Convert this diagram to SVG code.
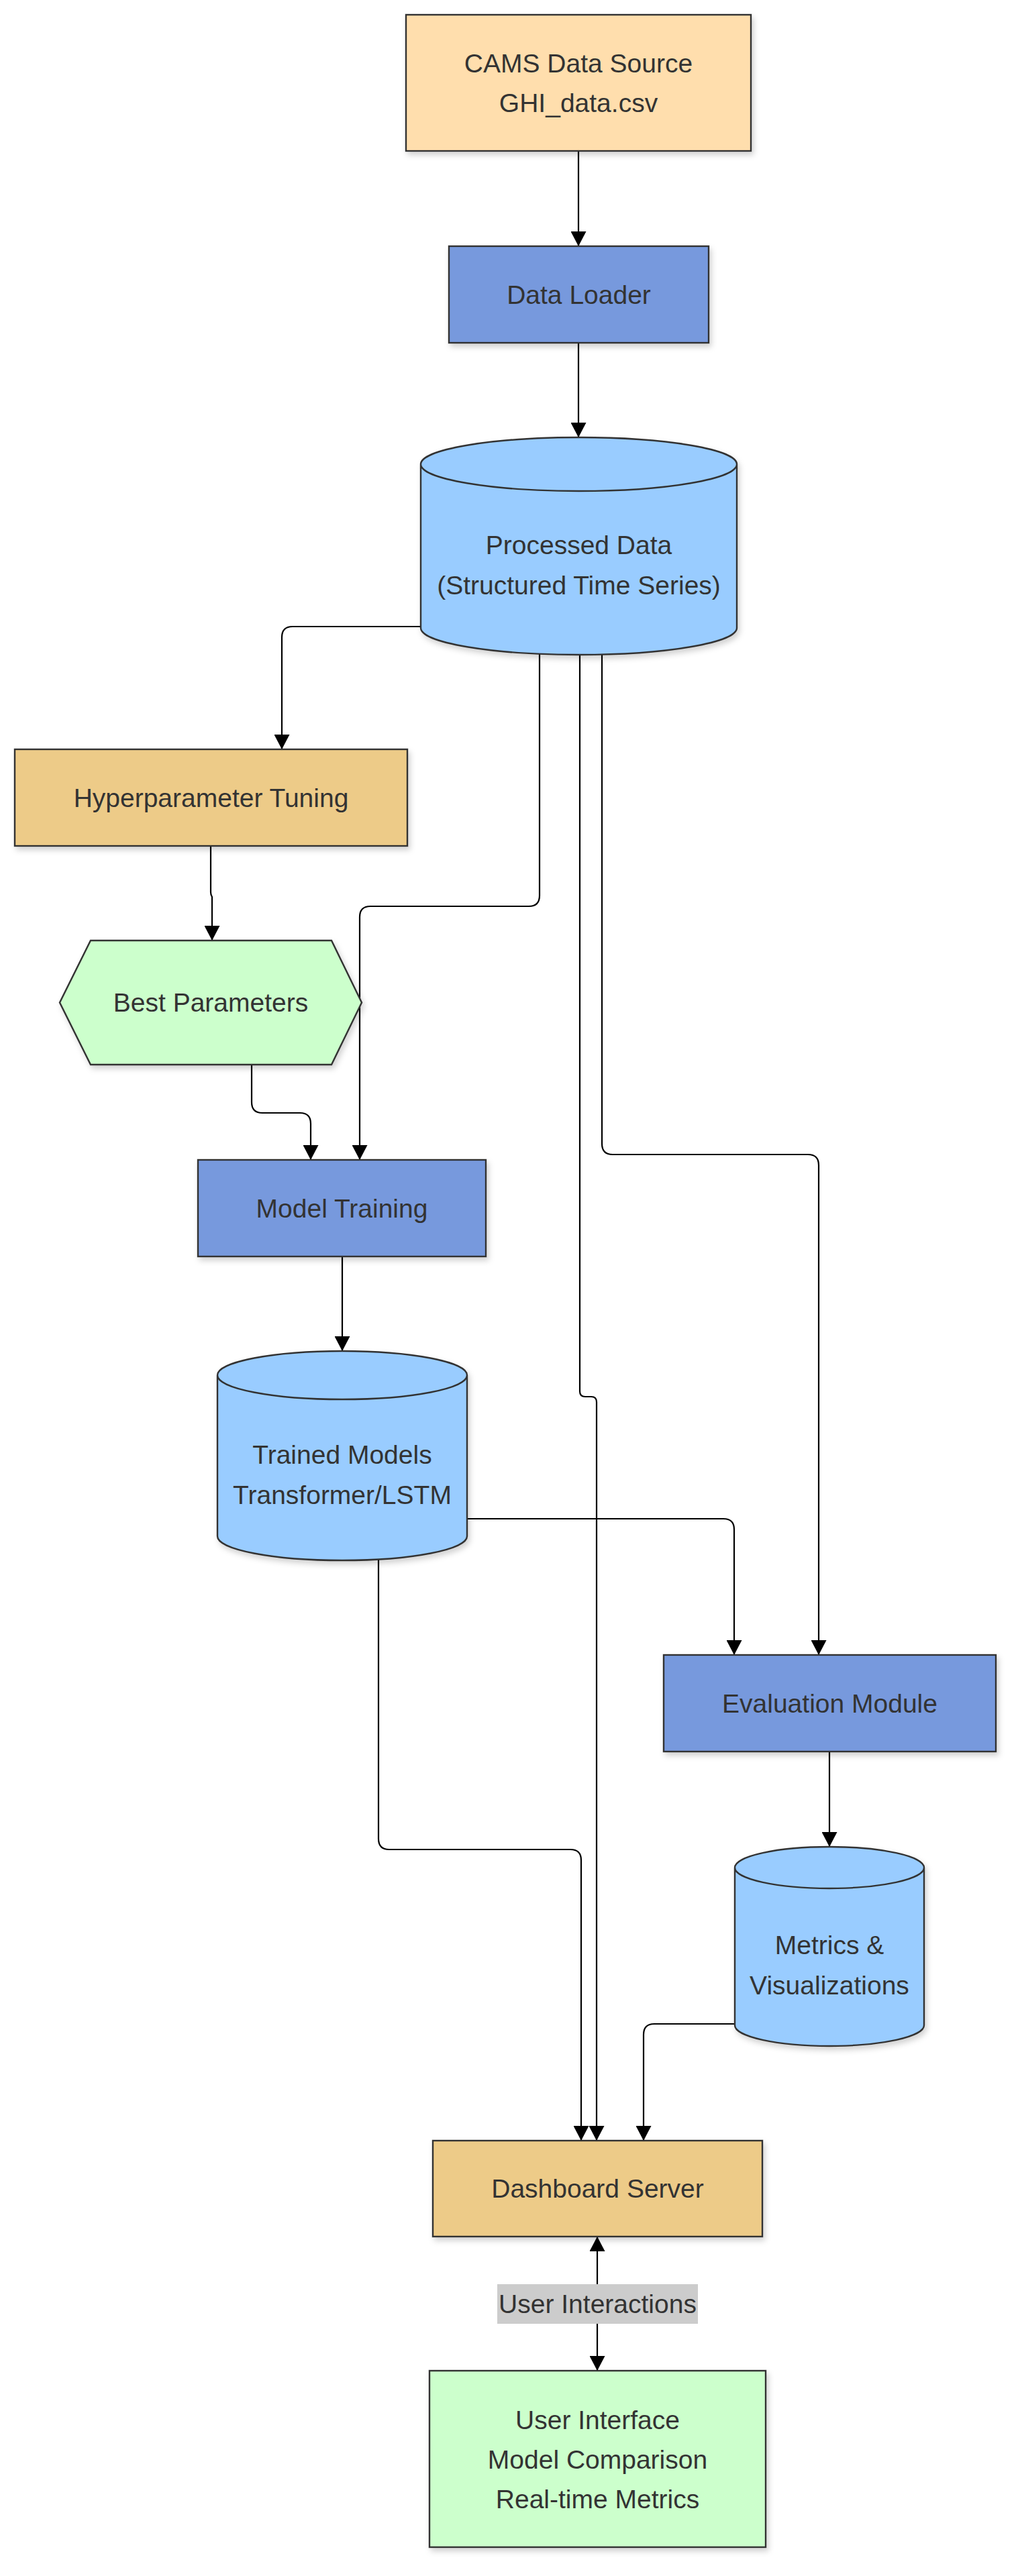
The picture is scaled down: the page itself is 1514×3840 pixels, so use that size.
<svg xmlns="http://www.w3.org/2000/svg" width="1514" height="3840" viewBox="0 0 1514 3840">
<style>
.node{stroke:#333;stroke-width:2.4;filter:url(#sh)}
.t{font-family:"Liberation Sans",Arial,sans-serif;font-size:39px;fill:#333;text-anchor:middle}
.e{fill:none;stroke:#000;stroke-width:2.2}
</style>
<defs>
<filter id="sh" x="-10%" y="-10%" width="125%" height="130%">
<feDropShadow dx="3" dy="5" stdDeviation="4" flood-color="#000" flood-opacity="0.18"/>
</filter>
<marker id="ah" markerUnits="userSpaceOnUse" markerWidth="23" markerHeight="23" refX="22" refY="11.5" orient="auto-start-reverse" viewBox="0 0 23 23">
<path d="M0,0 L22,11.5 L0,23 z" fill="#000"/>
</marker>
</defs>
<rect width="1514" height="3840" fill="#fff"/>
<g id="connectors">
<path class="e" d="M862,225 L862,367" marker-end="url(#ah)"/>
<path class="e" d="M862,511 L862,652" marker-end="url(#ah)"/>
<path class="e" d="M627,934 L436,934 Q420,934 420,950 L420,1117" marker-end="url(#ah)"/>
<path class="e" d="M314,1261 L314,1330 Q314,1334 316,1337 L316,1402" marker-end="url(#ah)"/>
<path class="e" d="M804,975 L804,1335 Q804,1351 788,1351 L552,1351 Q536,1351 536,1367 L536,1729" marker-end="url(#ah)"/>
<path class="e" d="M375,1587 L375,1643 Q375,1659 391,1659 L447,1659 Q463,1659 463,1675 L463,1729" marker-end="url(#ah)"/>
<path class="e" d="M864,976 L864,2074 Q864,2082 872,2082 L881,2082 Q889,2082 889,2090 L889,3191" marker-end="url(#ah)"/>
<path class="e" d="M897,975 L897,1705 Q897,1721 913,1721 L1204,1721 Q1220,1721 1220,1737 L1220,2467" marker-end="url(#ah)"/>
<path class="e" d="M510,1873 L510,2014" marker-end="url(#ah)"/>
<path class="e" d="M696,2264 L1078,2264 Q1094,2264 1094,2280 L1094,2467" marker-end="url(#ah)"/>
<path class="e" d="M564,2324 L564,2741 Q564,2757 580,2757 L850,2757 Q866,2757 866,2773 L866,3191" marker-end="url(#ah)"/>
<path class="e" d="M1236,2611 L1236,2753" marker-end="url(#ah)"/>
<path class="e" d="M1095,3017 L975,3017 Q959,3017 959,3033 L959,3191" marker-end="url(#ah)"/>
<path class="e" d="M890,3334 L890,3534" marker-start="url(#ah)" marker-end="url(#ah)"/>
<g id="edge-label">
<rect x="741" y="3405" width="299" height="59" fill="#ccc"/>
<text class="t" x="890.5" y="3447.5">User Interactions</text>
</g>
</g>
<g id="cams">
<rect class="node" x="605" y="22" width="514" height="203" fill="#FFDEAD"/>
<text class="t" x="862" y="107.5">CAMS Data Source</text>
<text class="t" x="862" y="166.5">GHI_data.csv</text>
</g>
<g id="loader">
<rect class="node" x="669" y="367" width="387" height="144" fill="#7799DD"/>
<text class="t" x="862.5" y="452.5">Data Loader</text>
</g>
<g id="processed">
<path class="node" fill="#99CCFF" d="M627,692 a235.5,40 0 0 0 471,0 a235.5,40 0 0 0 -471,0 l0,244 a235.5,40 0 0 0 471,0 l0,-244"/>
<text class="t" x="862.5" y="825.5">Processed Data</text>
<text class="t" x="862.5" y="885.5">(Structured Time Series)</text>
</g>
<g id="hyper">
<rect class="node" x="22" y="1117" width="585" height="144" fill="#EDCB88"/>
<text class="t" x="314.5" y="1202.5">Hyperparameter Tuning</text>
</g>
<g id="best">
<polygon class="node" fill="#CCFFCC" points="135,1402 494,1402 539,1494.5 494,1587 135,1587 89,1494.5"/>
<text class="t" x="314" y="1507.5">Best Parameters</text>
</g>
<g id="training">
<rect class="node" x="295" y="1729" width="429" height="144" fill="#7799DD"/>
<text class="t" x="509.5" y="1814.5">Model Training</text>
</g>
<g id="trained">
<path class="node" fill="#99CCFF" d="M324,2050 a186,36 0 0 0 372,0 a186,36 0 0 0 -372,0 l0,240 a186,36 0 0 0 372,0 l0,-240"/>
<text class="t" x="510" y="2181.5">Trained Models</text>
<text class="t" x="510" y="2241.5">Transformer/LSTM</text>
</g>
<g id="evaluation">
<rect class="node" x="989" y="2467" width="495" height="144" fill="#7799DD"/>
<text class="t" x="1236.5" y="2552.5">Evaluation Module</text>
</g>
<g id="metrics">
<path class="node" fill="#99CCFF" d="M1095,2784 a141,31 0 0 0 282,0 a141,31 0 0 0 -282,0 l0,235 a141,31 0 0 0 282,0 l0,-235"/>
<text class="t" x="1236" y="2912.5">Metrics &amp;</text>
<text class="t" x="1236" y="2972.5">Visualizations</text>
</g>
<g id="dashboard">
<rect class="node" x="645" y="3191" width="491" height="143" fill="#EDCB88"/>
<text class="t" x="890.5" y="3276">Dashboard Server</text>
</g>
<g id="ui">
<rect class="node" x="640" y="3534" width="501" height="263" fill="#CCFFCC"/>
<text class="t" x="890.5" y="3620.5">User Interface</text>
<text class="t" x="890.5" y="3679.5">Model Comparison</text>
<text class="t" x="890.5" y="3738.5">Real-time Metrics</text>
</g>
</svg>
